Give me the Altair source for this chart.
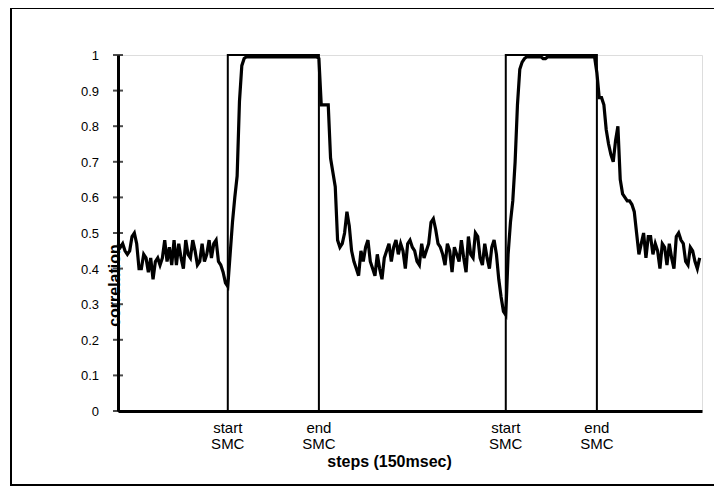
import altair as alt
import pandas as pd

# correlation per step (step = 150 msec)
corr_a = [0.47, 0.46, 0.47, 0.45, 0.44, 0.45, 0.49, 0.50, 0.47, 0.40,
          0.40, 0.44, 0.43, 0.39, 0.43, 0.37, 0.42, 0.43, 0.41, 0.43,
          0.48, 0.42, 0.46, 0.41, 0.48, 0.41, 0.47, 0.43, 0.40, 0.48,
          0.44, 0.43, 0.48, 0.45, 0.41, 0.42, 0.47, 0.42, 0.44, 0.48,
          0.43, 0.47, 0.48, 0.42, 0.41, 0.39, 0.36, 0.35]
corr_rise1 = [0.44, 0.53, 0.60, 0.66, 0.87, 0.97, 0.99]
corr_top1 = [0.995, 0.995, 0.995, 0.995, 0.995, 0.995, 0.995, 0.995, 0.995, 0.995,
             0.995, 0.995, 0.995, 0.995, 0.995, 0.995, 0.995, 0.995, 0.995, 0.995,
             0.995, 0.995, 0.995, 0.995, 0.995, 0.995, 0.995, 0.995, 0.995, 0.995,
             0.995, 0.99]
corr_fall1 = [0.86, 0.86, 0.86, 0.86, 0.71, 0.67, 0.63, 0.48, 0.46, 0.47,
              0.50, 0.56, 0.52, 0.45, 0.42]
corr_b = [0.40, 0.38, 0.45, 0.42, 0.46, 0.48, 0.42, 0.40, 0.38, 0.44,
          0.40, 0.37, 0.43, 0.45, 0.47, 0.42, 0.46, 0.48, 0.44, 0.47,
          0.45, 0.40, 0.47, 0.48, 0.46, 0.45, 0.42, 0.41, 0.47, 0.43,
          0.45, 0.47, 0.53, 0.54, 0.51, 0.47, 0.46, 0.44, 0.41, 0.47,
          0.45, 0.39, 0.46, 0.44, 0.42, 0.48, 0.43, 0.39, 0.49, 0.44,
          0.43, 0.50, 0.49, 0.43, 0.41, 0.47, 0.43, 0.40, 0.46, 0.48,
          0.44, 0.37, 0.32, 0.28, 0.27]
corr_rise2 = [0.44, 0.53, 0.59, 0.70, 0.86, 0.96, 0.98, 0.99]
corr_top2 = [0.995, 0.995, 0.995, 0.995, 0.995, 0.995, 0.995, 0.99, 0.99, 0.995,
             0.995, 0.995, 0.995, 0.995, 0.995, 0.995, 0.995, 0.995, 0.995, 0.995,
             0.995, 0.995, 0.995, 0.995, 0.995, 0.995, 0.995, 0.995, 0.995, 0.995]
corr_fall2 = [0.95, 0.88, 0.88, 0.86, 0.79, 0.75, 0.72, 0.70, 0.76, 0.80,
              0.65, 0.61, 0.60, 0.59, 0.59, 0.58, 0.56, 0.50]
corr_c = [0.44, 0.47, 0.50, 0.43, 0.49, 0.49, 0.44, 0.47, 0.45, 0.40,
          0.47, 0.46, 0.41, 0.47, 0.43, 0.40, 0.49, 0.50, 0.48, 0.47,
          0.42, 0.41, 0.46, 0.45, 0.42, 0.40, 0.43]

corr = (corr_a + corr_rise1 + corr_top1 + corr_fall1 + corr_b
        + corr_rise2 + corr_top2 + corr_fall2 + corr_c)

smc_start = [47, 166]
smc_end = [86, 205]
x_max = 250
y_ticks = [0, 0.1, 0.2, 0.3, 0.4, 0.5, 0.6, 0.7, 0.8, 0.9, 1]
y_tick_labels = ["0", "0.1", "0.2", "0.3", "0.4", "0.5", "0.6", "0.7", "0.8", "0.9", "1"]

W, H = 584, 356
FONT = "Liberation Sans"

df = pd.DataFrame({"step": list(range(len(corr))), "corr": corr})

pts = [(0, 0)]
for s, e in zip(smc_start, smc_end):
    pts += [(s, 0), (s, 1), (e, 1), (e, 0)]
pts.append((x_max, 0))
smc_df = pd.DataFrame({"step": [p[0] for p in pts],
                       "val": [p[1] for p in pts],
                       "ord": list(range(len(pts)))})

lab_df = pd.DataFrame({"step": smc_start + smc_end,
                       "label": ["start\nSMC"] * len(smc_start) + ["end\nSMC"] * len(smc_end)})
ytick_df = pd.DataFrame({"v": y_ticks, "lab": y_tick_labels})

x_scale = alt.Scale(domain=[0, x_max], nice=False, zero=False)
y_scale = alt.Scale(domain=[0, 1], nice=False)

x_axis = alt.Axis(title="steps (150msec)", labels=False, ticks=False, grid=False,
                  domainColor="black", domainWidth=3,
                  titleFont=FONT, titleFontSize=16, titleFontWeight="bold",
                  titleColor="black", titleX=271, titleY=50,
                  titleAlign="center", titleBaseline="middle")
y_axis = alt.Axis(title="correlation", labels=False, ticks=False, grid=False,
                  domainColor="black", domainWidth=3,
                  titleFont=FONT, titleFontSize=16, titleFontWeight="bold",
                  titleColor="black", titleX=-4, titleY=230, titleAngle=270,
                  titleAlign="center", titleBaseline="middle")

corr_line = alt.Chart(df).mark_line(color="black", strokeWidth=3.2).encode(
    x=alt.X("step:Q", scale=x_scale, axis=x_axis),
    y=alt.Y("corr:Q", scale=y_scale, axis=y_axis),
)

smc_line = alt.Chart(smc_df).mark_line(color="black", strokeWidth=2).encode(
    x=alt.X("step:Q"),
    y=alt.Y("val:Q"),
    order=alt.Order("ord:Q"),
)

ticks = alt.Chart(ytick_df).mark_tick(
    color="black", orient="horizontal", size=10, thickness=2
).encode(y=alt.Y("v:Q"), x=alt.value(0))

ytick_labels = alt.Chart(ytick_df).mark_text(
    align="right", baseline="middle", font=FONT, fontSize=13, color="black", dy=1
).encode(y=alt.Y("v:Q"), x=alt.value(-19), text="lab:N")

labels = alt.Chart(lab_df).mark_text(
    lineBreak="\n", baseline="top", align="center", font=FONT,
    fontSize=15, lineHeight=16, color="black"
).encode(x=alt.X("step:Q"), y=alt.value(H + 10), text="label:N")

border = alt.Chart(alt.Data(values=[{}])).mark_rect(
    fillOpacity=0, stroke="black", strokeWidth=2
).encode(x=alt.value(-107), x2=alt.value(W + 30),
         y=alt.value(-47), y2=alt.value(H + 74))

chart = alt.layer(border, smc_line, corr_line, ticks, ytick_labels, labels).properties(
    width=W, height=H,
    padding={"left": 110, "top": 47, "right": 12, "bottom": 76},
    autosize=alt.AutoSizeParams(type="none"),
    background="white",
).configure_view(stroke=None).configure(font=FONT)

chart.save("out.html", embed_options={"renderer": "svg", "actions": False})
